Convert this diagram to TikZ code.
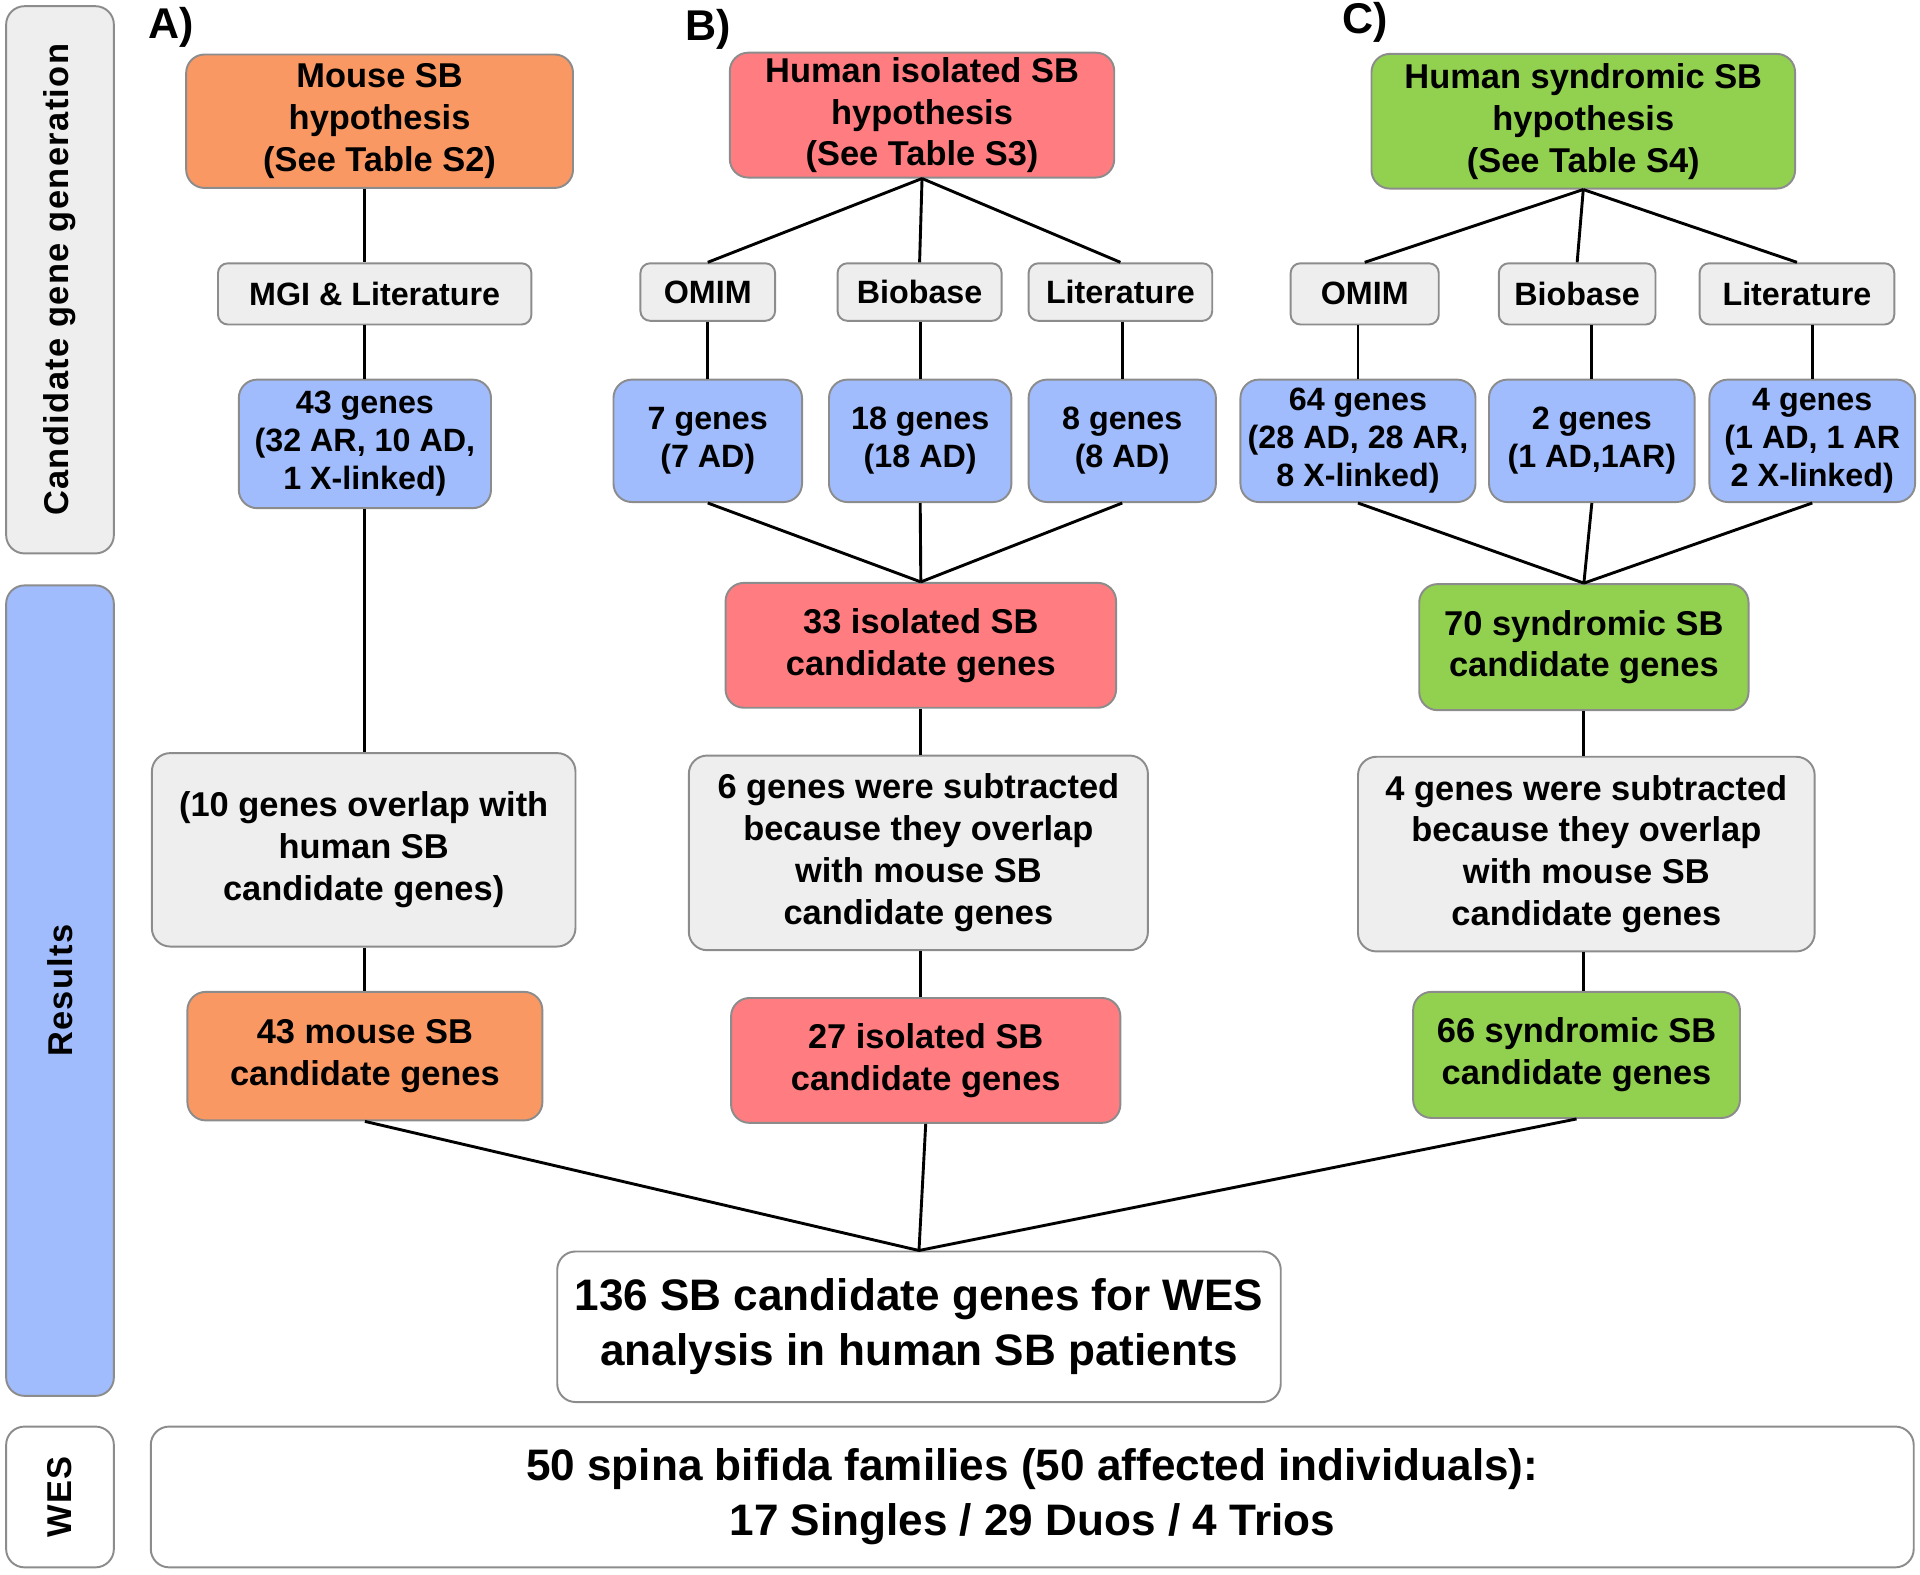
\documentclass[tikz,border=0pt]{standalone}
\usepackage{fontspec}
\setmainfont{Liberation Sans}
\definecolor{mouseorange}{RGB}{250,152,100}
\definecolor{isored}{RGB}{255,125,128}
\definecolor{syngreen}{RGB}{146,208,80}
\definecolor{geneblue}{RGB}{160,188,252}
\definecolor{boxgray}{RGB}{238,238,238}
\definecolor{edgegray}{RGB}{140,140,140}

\begin{document}
\begin{tikzpicture}[x=0.02cm,y=-0.02cm,
	box/.style={draw=edgegray,line width=0.9pt,rounded corners=0.3cm,align=center,inner sep=0pt,
		font=\bfseries\fontsize{16}{19.5}\selectfont},
	srcbox/.style={box,fill=boxgray,rounded corners=0.16cm,font=\bfseries\fontsize{15}{18}\selectfont},
	genebox/.style={box,fill=geneblue,font=\bfseries\fontsize{15}{17.6}\selectfont},
	sidebox/.style={box,rotate=90,minimum height=1.76cm,font=\bfseries\fontsize{16}{19}\selectfont\addfontfeatures{LetterSpace=4}},
	bigbox/.style={box,fill=white,font=\bfseries\fontsize{20.5}{25.5}\selectfont},
	sz/.style 2 args={minimum width=#1cm,minimum height=#2cm},
	panel/.style={font=\bfseries\fontsize{20}{24}\selectfont},
	conn/.style={line width=1.35pt}]
	\useasboundingbox (0,0) rectangle (1568,1286);

	% side bars
	\node[sidebox,fill=boxgray,minimum width=8.94cm] (sgen) at (49,228.5) {Candidate gene generation};
	\node[sidebox,fill=geneblue,minimum width=13.24cm] (sres) at (49,809) {Results};
	\node[sidebox,fill=white,minimum width=2.3cm] (swes) at (49,1222.5) {WES};

	\node[panel] (pa) at (140,22) {A)};
	\node[panel] (pb) at (578,24) {B)};
	\node[panel] (pc) at (1115,18) {C)};

	% A) mouse
	\node[box,fill=mouseorange,sz={6.32}{2.18}] (hypA) at (310,99) {Mouse SB\\hypothesis\\(See Table S2)};
	\node[srcbox,sz={5.12}{1.0}] (srcA) at (306,240) {MGI \& Literature};
	\node[genebox,sz={4.12}{2.1}] (genA) at (298,362.5) {43 genes\\(32 AR, 10 AD,\\1 X-linked)};
	\node[box,fill=boxgray,sz={6.92}{3.16}] (ovlA) at (297,694) {(10 genes overlap with\\human SB\\candidate genes)};
	\node[box,fill=mouseorange,sz={5.8}{2.1}] (resA) at (298,862.5) {43 mouse SB\\candidate genes};

	% B) human isolated
	\node[box,fill=isored,sz={6.28}{2.04}] (hypB) at (753,94) {Human isolated SB\\hypothesis\\(See Table S3)};
	\node[srcbox,sz={2.2}{0.94}] (omimB) at (578,238.5) {OMIM};
	\node[srcbox,sz={2.68}{0.94}] (bioB) at (751,238.5) {Biobase};
	\node[srcbox,sz={3.0}{0.94}] (litB) at (915,238.5) {Literature};
	\node[genebox,sz={3.08}{2.0}] (gomB) at (578,360) {7 genes\\(7 AD)};
	\node[genebox,sz={2.98}{2.0}] (gbiB) at (751.5,360) {18 genes\\(18 AD)};
	\node[genebox,sz={3.06}{2.0}] (gliB) at (916.5,360) {8 genes\\(8 AD)};
	\node[box,fill=isored,sz={6.38}{2.04}] (isoB) at (752,527) {33 isolated SB\\candidate genes};
	\node[box,fill=boxgray,sz={7.5}{3.18}] (subB) at (750,696.5) {6 genes were subtracted\\because they overlap\\with mouse SB\\candidate genes};
	\node[box,fill=isored,sz={6.36}{2.04}] (resB) at (756,866) {27 isolated SB\\candidate genes};

	% C) human syndromic
	\node[box,fill=syngreen,sz={6.92}{2.2}] (hypC) at (1293,99) {Human syndromic SB\\hypothesis\\(See Table S4)};
	\node[srcbox,sz={2.42}{1.0}] (omimC) at (1114.5,240) {OMIM};
	\node[srcbox,sz={2.56}{1.0}] (bioC) at (1288,240) {Biobase};
	\node[srcbox,sz={3.18}{1.0}] (litC) at (1467.5,240) {Literature};
	\node[genebox,sz={3.84}{2.0}] (gomC) at (1109,360) {64 genes\\(28 AD, 28 AR,\\8 X-linked)};
	\node[genebox,sz={3.36}{2.0}] (gbiC) at (1300,360) {2 genes\\(1 AD,1AR)};
	\node[genebox,sz={3.36}{2.0}] (gliC) at (1480,360) {4 genes\\(1 AD, 1 AR\\2 X-linked)};
	\node[box,fill=syngreen,sz={5.38}{2.06}] (synC) at (1293.5,528.5) {70 syndromic SB\\candidate genes};
	\node[box,fill=boxgray,sz={7.46}{3.18}] (subC) at (1295.5,697.5) {4 genes were subtracted\\because they overlap\\with mouse SB\\candidate genes};
	\node[box,fill=syngreen,sz={5.34}{2.06}] (resC) at (1287.5,861.5) {66 syndromic SB\\candidate genes};

	% merged list and cohort
	\node[bigbox,sz={11.82}{2.46}] (total) at (750.5,1083.5) {136 SB candidate genes for WES\\analysis in human SB patients};
	\node[bigbox,sz={28.8}{2.3}] (fam) at (843,1222.5) {50 spina bifida families (50 affected individuals):\\17 Singles / 29 Duos / 4 Trios};

	% connectors A
	\draw[conn] (hypA.south -| genA) -- (srcA.north -| genA);
	\draw[conn] (srcA.south -| genA) -- (genA.north);
	\draw[conn] (genA.south) -- (ovlA.north -| genA);
	\draw[conn] (ovlA.south -| genA) -- (resA.north -| genA);

	% connectors B
	\foreach \s/\g in {omimB/gomB,bioB/gbiB,litB/gliB}{
		\draw[conn] (hypB.south) -- (\s.north);
		\draw[conn] (\s.south -| \g) -- (\g.north);
		\draw[conn] (\g.south) -- (isoB.north);
	}
	\draw[conn] (isoB.south) -- (subB.north -| isoB);
	\draw[conn] (subB.south -| isoB) -- (resB.north -| isoB);

	% connectors C
	\foreach \s/\g in {omimC/gomC,bioC/gbiC,litC/gliC}{
		\draw[conn] (hypC.south) -- (\s.north);
		\draw[conn] (\s.south -| \g) -- (\g.north);
		\draw[conn] (\g.south) -- (synC.north);
	}
	\draw[conn] (synC.south) -- (subC.north -| synC);
	\draw[conn] (subC.south -| synC) -- (resC.north -| synC);

	% to the merged list
	\foreach \r in {resA,resB,resC}
		\draw[conn] (\r.south) -- (total.north);
\end{tikzpicture}
\end{document}
